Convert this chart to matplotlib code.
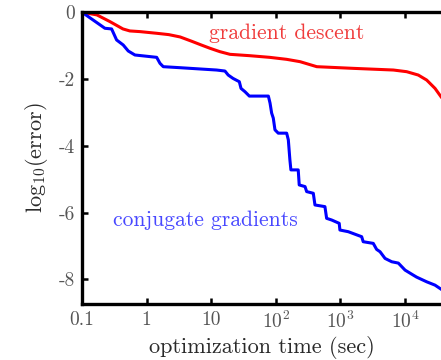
import matplotlib
matplotlib.use("Agg")
import matplotlib.pyplot as plt

# values (time in sec, log10 error)
gd_time = [0.1, 0.17, 0.27, 0.43, 0.55, 0.79, 1.43, 2.2, 3.3, 5.0, 7.0, 9.6,
           13.6, 19.5, 39, 80, 147, 237, 430, 1580, 6600, 10600, 16000, 21600,
           29100, 36000]
gd_err = [0.0, -0.08, -0.28, -0.50, -0.56, -0.58, -0.63, -0.67, -0.74, -0.87,
          -0.98, -1.08, -1.18, -1.26, -1.30, -1.35, -1.41, -1.48, -1.63, -1.68,
          -1.73, -1.78, -1.88, -2.03, -2.28, -2.53]

cg_time = [0.1, 0.226, 0.287, 0.343, 0.434, 0.519, 0.659, 1.43, 1.61, 1.81,
           3.27, 12.1, 16.3, 18.3, 21.7, 27.2, 28.9, 33.3, 38.9, 76.6, 81.3,
           86.1, 91.3, 96.9, 109, 147, 156, 165, 171, 222, 230, 283, 300, 380,
           403, 575, 611, 731, 957, 981, 1320, 2130, 2250, 3220, 3630, 4100,
           4900, 6220, 7870, 10000, 13400, 15100, 21600, 29100, 36000]
cg_err = [0.0, -0.48, -0.50, -0.83, -0.98, -1.16, -1.28, -1.35, -1.53, -1.63,
          -1.66, -1.73, -1.76, -1.88, -1.98, -2.08, -2.28, -2.38, -2.51, -2.51,
          -2.72, -3.02, -3.17, -3.52, -3.62, -3.62, -3.82, -4.42, -4.72, -4.72,
          -5.17, -5.22, -5.37, -5.42, -5.77, -5.82, -6.17, -6.22, -6.32, -6.52,
          -6.57, -6.72, -6.87, -6.92, -7.10, -7.17, -7.37, -7.47, -7.51, -7.72,
          -7.87, -7.93, -8.07, -8.17, -8.29]

xticks = [0.1, 1, 10, 100, 1000, 10000]
xtick_labels = ["0.1", "1", "10", r"$10^2$", r"$10^3$", r"$10^4$"]
yticks = [0, -2, -4, -6, -8]
ytick_labels = ["0", "-2", "-4", "-6", "-8"]

plt.rcParams.update({
    'font.family': 'cmr10',
    'mathtext.fontset': 'cm',
    'axes.formatter.use_mathtext': True,
})

fig = plt.figure(figsize=(4.41, 3.6), dpi=100)
ax = fig.add_axes([0.186, 0.156, 0.814, 0.81])

ax.plot(gd_time, gd_err, color='#ff0000', linewidth=2.2)
ax.plot(cg_time, cg_err, color='#0000ff', linewidth=2.2)

ax.text(147, -0.62, "gradient descent", color='#f03c3c', fontsize=15.5,
        ha='center', va='center')
ax.text(8.0, -6.22, "conjugate gradients", color='#4848ff', fontsize=15.5,
        ha='center', va='center')

ax.set_xscale('log')
ax.set_xlim(0.1, 36000)
ax.set_ylim(-8.73, 0)
ax.set_xticks(xticks)
ax.set_xticklabels(xtick_labels)
ax.set_yticks(yticks)
ax.set_yticklabels(ytick_labels)
ax.minorticks_off()

ax.set_xlabel("optimization time (sec)", fontsize=16, color='#2a2a2a', labelpad=3)
ax.set_ylabel(r"$\mathrm{log}_{10}(\mathrm{error})$", fontsize=16,
              color='#2a2a2a', labelpad=6)

for side in ['left', 'bottom', 'top']:
    ax.spines[side].set_linewidth(2.4)
ax.spines['right'].set_visible(False)
ax.tick_params(direction='in', length=4, width=1.8, top=True, right=False,
               labelsize=14, labelcolor='#555555', pad=5)

plt.savefig("out.png", dpi=100)
plt.close(fig)
